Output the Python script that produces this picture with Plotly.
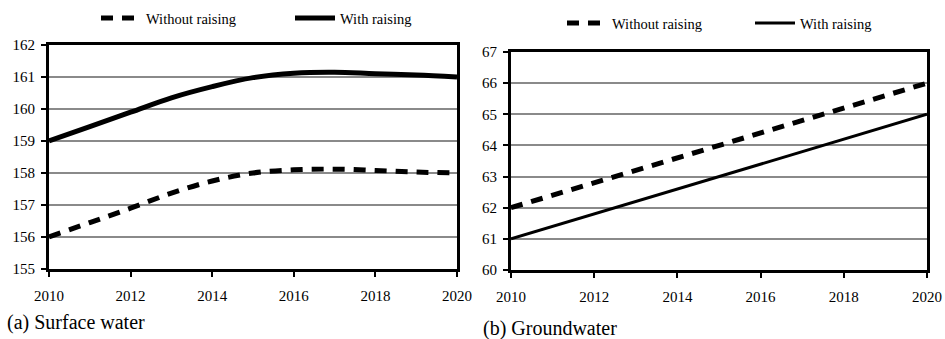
import plotly.graph_objects as go

years = [2010, 2011, 2012, 2013, 2014, 2015, 2016, 2017, 2018, 2019, 2020]
surface_without = [156.0, 156.45, 156.9, 157.37, 157.75, 158.0, 158.1, 158.12, 158.08, 158.03, 158.0]
surface_with = [159.0, 159.45, 159.9, 160.35, 160.7, 160.98, 161.12, 161.15, 161.1, 161.06, 161.0]
ground_without = [62.0, 62.4, 62.8, 63.2, 63.6, 64.0, 64.4, 64.8, 65.2, 65.6, 66.0]
ground_with = [61.0, 61.4, 61.8, 62.2, 62.6, 63.0, 63.4, 63.8, 64.2, 64.6, 65.0]
series_names = ["Without raising", "With raising"]
captions = ["(a) Surface water", "(b) Groundwater"]

FONT = "Liberation Serif, Times New Roman, serif"
DASH = "12px,9px"

fig = go.Figure()
fig.add_trace(go.Scatter(x=years, y=surface_without, mode="lines", name=series_names[0],
                         line=dict(color="black", width=5, dash=DASH, shape="spline"),
                         xaxis="x", yaxis="y", legend="legend"))
fig.add_trace(go.Scatter(x=years, y=surface_with, mode="lines", name=series_names[1],
                         line=dict(color="black", width=5, shape="spline"),
                         xaxis="x", yaxis="y", legend="legend"))
fig.add_trace(go.Scatter(x=years, y=ground_without, mode="lines", name=series_names[0],
                         line=dict(color="black", width=5, dash=DASH),
                         xaxis="x2", yaxis="y2", legend="legend2"))
fig.add_trace(go.Scatter(x=years, y=ground_with, mode="lines", name=series_names[1],
                         line=dict(color="black", width=3),
                         xaxis="x2", yaxis="y2", legend="legend2"))

W, H = 945, 339

def xaxis(domain, anchor):
    return dict(domain=domain, anchor=anchor, range=[2010, 2020], dtick=2, tick0=2010,
                showgrid=False, showline=True, linecolor="black", linewidth=3, mirror=True,
                ticks="outside", ticklen=5, tickwidth=2, tickcolor="black",
                ticklabelstandoff=6, automargin=False,
                tickfont=dict(family=FONT, size=15, color="black"), zeroline=False)

def yaxis(domain, anchor, rng):
    return dict(domain=domain, anchor=anchor, range=rng, dtick=1,
                showgrid=True, gridcolor="#8a8a8a", gridwidth=2,
                showline=True, linecolor="black", linewidth=3, mirror=True,
                ticks="outside", ticklen=5, tickwidth=2, tickcolor="black",
                ticklabelstandoff=3, automargin=False,
                tickfont=dict(family=FONT, size=15, color="black"), zeroline=False)

leg_common = dict(orientation="h", xanchor="left", yanchor="middle",
                  font=dict(family=FONT, size=14.5, color="black"),
                  bgcolor="rgba(0,0,0,0)", itemwidth=40, tracegroupgap=0)

fig.update_layout(
    width=W, height=H,
    margin=dict(l=0, r=0, t=0, b=0, autoexpand=False),
    paper_bgcolor="white", plot_bgcolor="white",
    xaxis=xaxis([49 / W, 457 / W], "y"),
    yaxis=yaxis([1 - 269 / H, 1 - 45 / H], "x", [155, 162]),
    xaxis2=xaxis([511 / W, 927 / W], "y2"),
    yaxis2=yaxis([1 - 270 / H, 1 - 52 / H], "x2", [60, 67]),
    legend=dict(x=96 / W, y=1 - 18 / H, entrywidth=139, entrywidthmode="pixels", **leg_common),
    legend2=dict(x=562 / W, y=1 - 23 / H, entrywidth=133, entrywidthmode="pixels", **leg_common),
    showlegend=True,
    annotations=[
        dict(text=captions[0], x=5 / W, y=1 - 322 / H, xref="paper", yref="paper",
             xanchor="left", yanchor="middle", showarrow=False,
             font=dict(family=FONT, size=20, color="black")),
        dict(text=captions[1], x=481 / W, y=1 - 328 / H, xref="paper", yref="paper",
             xanchor="left", yanchor="middle", showarrow=False,
             font=dict(family=FONT, size=20, color="black")),
    ],
)

fig.write_html("out.html")
